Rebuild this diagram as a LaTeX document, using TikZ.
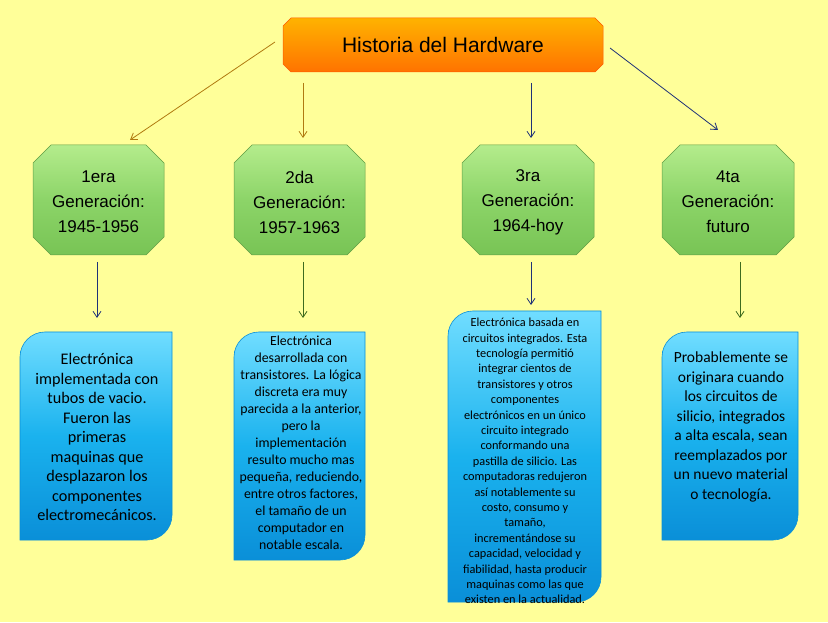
\documentclass[tikz,border=0pt]{standalone}
\usepackage{fontspec}
\setmainfont{Carlito}
\newfontfamily\hdr{Liberation Sans}
\usetikzlibrary{arrows.meta}
\definecolor{bg}{HTML}{FFFF99}
\definecolor{gold}{HTML}{B07A10}
\definecolor{navy}{HTML}{1F3278}
\definecolor{dgreen}{HTML}{3E6B1E}
\definecolor{gtop}{HTML}{B4EC8C}
\definecolor{gmid}{HTML}{8CD468}
\definecolor{gbot}{HTML}{78C455}
\definecolor{btop}{HTML}{70DDFF}
\definecolor{bmid}{HTML}{1AB2EE}
\definecolor{bbot}{HTML}{0A8FD8}
\newcommand{\bevelbox}[6]{% L B R T b style
  \path[#6] (#1+#5,#4)--(#3-#5,#4)--(#3,#4-#5)--(#3,#2+#5)--(#3-#5,#2)--(#1+#5,#2)--(#1,#2+#5)--(#1,#4-#5)--cycle;}
\newcommand{\bluebx}[4]{% L B R T
  \path[bluefill] (#1,#2)--(#1,#4-25) arc[start angle=180,end angle=90,radius=25]--(#3,#4)--(#3,#2+25) arc[start angle=0,end angle=-90,radius=25]--cycle;}
\tikzset{
  bluefill/.style={top color=btop, bottom color=bbot, middle color=bmid, draw=bbot, line width=0.6pt},
  greenfill/.style={top color=gtop, bottom color=gbot, middle color=gmid, draw=gbot!80!black, line width=0.5pt},
  orangefill/.style={top color=orange!60!yellow, bottom color=orange!90!red, draw=orange!70!red, line width=0.5pt},
  hdrtext/.style={font=\hdr\fontsize{17}{25}\selectfont, align=center},
  bodytext/.style={align=center, inner sep=0pt},
  arr/.style={-{Straight Barb[length=6pt,width=8pt]}, line width=0.8pt}
}
\begin{document}
\begin{tikzpicture}[x=1pt,y=1pt]
\fill[bg] (0,0) rectangle (828,622);
\useasboundingbox (0,0) rectangle (828,622);
% title
\bevelbox{283}{550}{603}{604}{8}{orangefill}
\node[hdrtext, font=\hdr\fontsize{21}{25}\selectfont] (title) at (443,577) {Historia del Hardware};
% green boxes
\bevelbox{33}{367}{164}{477}{18}{greenfill}
\bevelbox{234}{367}{365}{477}{18}{greenfill}
\bevelbox{462}{367}{594}{477}{18}{greenfill}
\bevelbox{662}{367}{794}{477}{18}{greenfill}
\node[hdrtext] (g1) at (98.5,420) {1era\\Generación:\\1945-1956};
\node[hdrtext] (g2) at (299.5,420) {2da\\Generación:\\1957-1963};
\node[hdrtext] (g3) at (528,420) {3ra\\Generación:\\1964-hoy};
\node[hdrtext] (g4) at (728,420) {4ta\\Generación:\\futuro};
% blue boxes
\bluebx{20}{82}{172}{290}
\bluebx{234}{62}{365}{290}
\bluebx{448}{20}{601}{311}
\bluebx{662}{82}{798}{290}
\node[bodytext, font=\fontsize{16.2}{19.5}\selectfont] (b1) at (97,185) {Electrónica\\implementada con\\tubos de vacio.\\Fueron las\\primeras\\maquinas que\\desplazaron los\\componentes\\electromecánicos.};
\node[bodytext, font=\fontsize{13.8}{17}\selectfont] (b2) at (301,179) {Electrónica\\desarrollada con\\transistores. La lógica\\discreta era muy\\parecida a la anterior,\\pero la\\implementación\\resulto mucho mas\\pequeña, reduciendo,\\entre otros factores,\\el tamaño de un\\computador en\\notable escala.};
\node[bodytext, font=\fontsize{12.3}{15.4}\selectfont] (b3) at (525,161) {Electrónica basada en\\circuitos integrados. Esta\\tecnología permitió\\integrar cientos de\\transistores y otros\\componentes\\electrónicos en un único\\circuito integrado\\conformando una\\pastilla de silicio. Las\\computadoras redujeron\\así notablemente su\\costo, consumo y\\tamaño,\\incrementándose su\\capacidad, velocidad y\\fiabilidad, hasta producir\\maquinas como las que\\existen en la actualidad.};
\node[bodytext, font=\fontsize{15.5}{19.5}\selectfont] (b4) at (731,195) {Probablemente se\\originara cuando\\los circuitos de\\silicio, integrados\\a alta escala, sean\\reemplazados  por\\un nuevo material\\o tecnología.};
% connector end points
\coordinate (t1) at (275,580); \coordinate (e1) at (130,482);
\coordinate (t2) at (303,539); \coordinate (e2) at (303,484);
\coordinate (t3) at (531,539); \coordinate (e3) at (531,484);
\coordinate (t4) at (610,574); \coordinate (e4) at (718,492);
\coordinate (d1) at (97,360); \coordinate (f1) at (97,304);
\coordinate (d2) at (303,360); \coordinate (f2) at (303,304);
\coordinate (d3) at (531,360); \coordinate (f3) at (531,317);
\coordinate (d4) at (740,360); \coordinate (f4) at (740,304);
\draw[arr, gold] (t1) -- (e1);
\draw[arr, gold] (t2) -- (e2);
\draw[arr, navy] (t3) -- (e3);
\draw[arr, navy] (t4) -- (e4);
\draw[arr, navy] (d1) -- (f1);
\draw[arr, dgreen] (d2) -- (f2);
\draw[arr, navy] (d3) -- (f3);
\draw[arr, dgreen] (d4) -- (f4);
\end{tikzpicture}
\end{document}
